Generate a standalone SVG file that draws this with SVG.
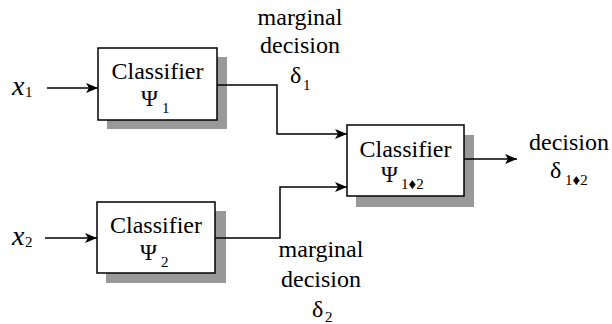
<svg xmlns="http://www.w3.org/2000/svg" width="612" height="324" viewBox="0 0 612 324">
<style>
  text { font-family: "Liberation Serif", "Times New Roman", serif; fill: #000; }
  .lbl { font-size: 24px; }
  .psi { font-size: 23px; }
  .sub { font-size: 15px; }
  .ctr { text-anchor: middle; }
  .var { font-size: 28px; font-style: italic; }
  .box { fill: #fff; stroke: #000; stroke-width: 1.5; }
  .shadow { fill: #999; stroke: none; }
  .wire { fill: none; stroke: #000; stroke-width: 1.5; }
</style>
<defs>
  <marker id="arr" viewBox="0 0 12 10" refX="12" refY="5" markerWidth="12" markerHeight="10" markerUnits="userSpaceOnUse" orient="auto">
    <path d="M0,0 L12,5 L0,10 L3,5 Z" fill="#000"/>
  </marker>
</defs>
<rect width="612" height="324" fill="#fff"/>

<g id="classifier1">
  <rect class="shadow" x="107" y="57" width="120" height="72"/>
  <rect class="box" x="98" y="48" width="119" height="72"/>
  <text class="lbl ctr" x="157.5" y="79">Classifier</text>
  <text class="psi" x="141" y="106">Ψ</text>
  <text class="sub" x="162" y="113">1</text>
</g>

<g id="classifier2">
  <rect class="shadow" x="106" y="211" width="120" height="72"/>
  <rect class="box" x="97" y="202" width="118" height="71"/>
  <text class="lbl ctr" x="156" y="233">Classifier</text>
  <text class="psi" x="140" y="260">Ψ</text>
  <text class="sub" x="161" y="267">2</text>
</g>

<g id="classifier12">
  <rect class="shadow" x="356" y="135" width="118" height="72"/>
  <rect class="box" x="347" y="125" width="117" height="71"/>
  <text class="lbl ctr" x="405.5" y="157">Classifier</text>
  <text class="psi" x="381" y="182">Ψ</text>
  <text class="sub" x="401" y="189">1♦2</text>
</g>

<g id="input1">
  <text class="var" x="12" y="95">x</text>
  <text class="sub" x="25" y="97">1</text>
</g>
<g id="input2">
  <text class="var" x="12" y="245">x</text>
  <text class="sub" x="25" y="247">2</text>
</g>

<g id="label-delta1">
  <text class="lbl ctr" x="300" y="25">marginal</text>
  <text class="lbl ctr" x="300" y="53">decision</text>
  <text class="lbl" x="290" y="83">δ</text>
  <text class="sub" x="303" y="90">1</text>
</g>
<g id="label-delta2">
  <text class="lbl ctr" x="321" y="257">marginal</text>
  <text class="lbl ctr" x="321" y="287">decision</text>
  <text class="lbl" x="312" y="317">δ</text>
  <text class="sub" x="325" y="322">2</text>
</g>
<g id="label-delta12">
  <text class="lbl ctr" x="569" y="150">decision</text>
  <text class="lbl" x="550" y="178">δ</text>
  <text class="sub" x="565" y="185">1♦2</text>
</g>

<g id="connectors">
  <line class="wire" x1="47" y1="88" x2="98" y2="88" marker-end="url(#arr)"/>
  <line class="wire" x1="45" y1="238" x2="97" y2="238" marker-end="url(#arr)"/>
  <polyline class="wire" points="217,85 277,85 277,134 347,134" marker-end="url(#arr)"/>
  <polyline class="wire" points="215,238 280,238 280,187 347,187" marker-end="url(#arr)"/>
  <line class="wire" x1="464" y1="159" x2="517" y2="159" marker-end="url(#arr)"/>
</g>
</svg>
